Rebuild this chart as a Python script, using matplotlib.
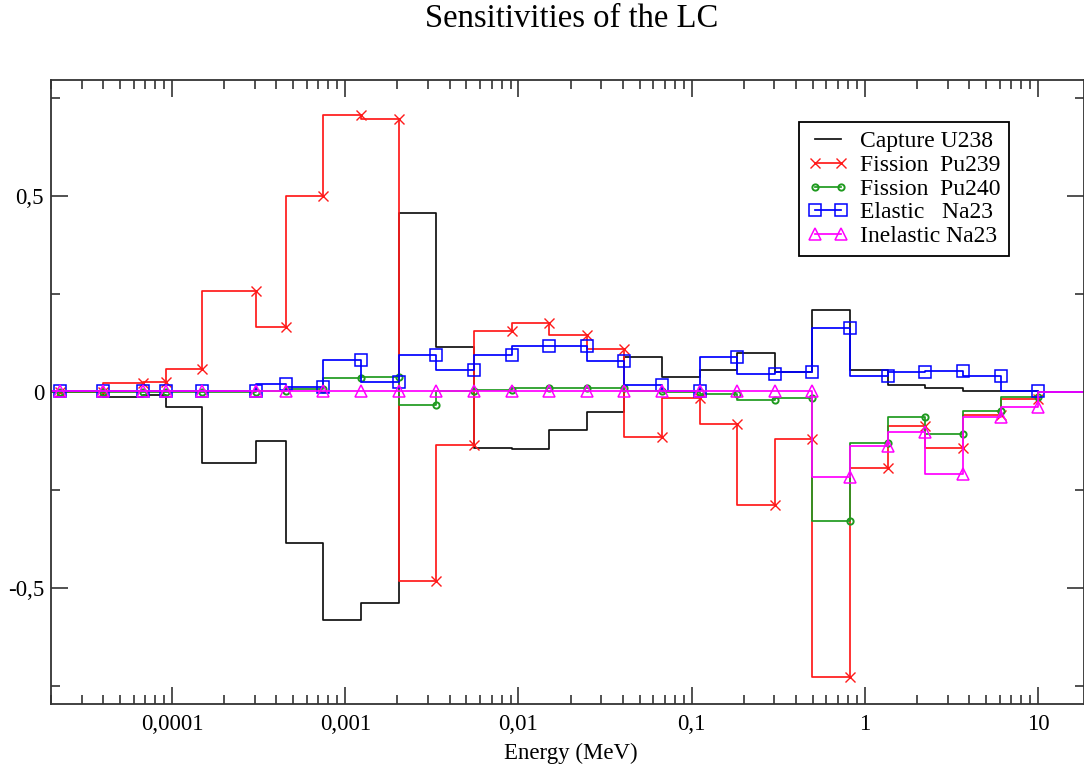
import matplotlib
matplotlib.use("Agg")
import matplotlib.pyplot as plt
from matplotlib.ticker import FixedLocator, FixedFormatter, NullFormatter

# ECCO 33-group boundaries (MeV) used as the step points
energy = [1.371e-5, 2.260e-5, 4.017e-5, 6.790e-5, 9.166e-5, 1.486e-4, 3.043e-4,
          4.540e-4, 7.485e-4, 1.234e-3, 2.035e-3, 3.355e-3, 5.531e-3, 9.119e-3,
          1.503e-2, 2.479e-2, 4.087e-2, 6.738e-2, 0.1111, 0.1832, 0.3020,
          0.4979, 0.8209, 1.353, 2.231, 3.679, 6.065, 10.0, 19.64]

capture_u238 = [0.0, 0.0, 0.0, -0.013, -0.008, -0.038, -0.181, -0.124, -0.385,
                -0.580, -0.537, 0.455, 0.115, -0.143, -0.145, -0.096, -0.050,
                0.089, 0.038, 0.056, 0.099, 0.051, 0.209, 0.056, 0.018, 0.011,
                0.003, 0.002, 0.001]

fission_pu239 = [0.0, 0.0, 0.0, 0.022, 0.026, 0.058, 0.257, 0.165, 0.500,
                 0.705, 0.695, -0.481, -0.135, 0.155, 0.176, 0.145, 0.109,
                 -0.114, -0.015, -0.082, -0.287, -0.120, -0.725, -0.193,
                 -0.086, -0.143, -0.058, -0.018, 0.0]

fission_pu240 = [0.0, 0.0, 0.0, 0.0, 0.0, 0.0, 0.0, 0.003, 0.008, 0.036, 0.038,
                 -0.032, 0.002, 0.006, 0.009, 0.009, 0.009, 0.002, 0.0, -0.005,
                 -0.020, -0.015, -0.328, -0.130, -0.064, -0.107, -0.048, -0.013,
                 0.0]

elastic_na23 = [0.003, 0.003, 0.003, 0.003, 0.003, 0.003, 0.003, 0.020, 0.013,
                0.081, 0.025, 0.094, 0.056, 0.094, 0.117, 0.117, 0.079, 0.018,
                0.003, 0.089, 0.046, 0.050, 0.163, 0.041, 0.051, 0.053, 0.041,
                0.003, 0.0]

inelastic_na23 = [0.002, 0.002, 0.002, 0.002, 0.002, 0.002, 0.002, 0.002, 0.002,
                  0.002, 0.002, 0.002, 0.002, 0.002, 0.002, 0.002, 0.002, 0.002,
                  0.002, 0.002, 0.002, 0.002, -0.216, -0.137, -0.102, -0.209,
                  -0.064, -0.039, 0.0]

labels = ["Capture U238", "Fission  Pu239", "Fission  Pu240",
          "Elastic   Na23", "Inelastic Na23"]
xtick_vals = [1e-4, 1e-3, 1e-2, 1e-1, 1, 10]
xtick_labels = ["0,0001", "0,001", "0,01", "0,1", "1", "10"]
ytick_vals = [-0.5, 0.0, 0.5]
ytick_labels = ["-0,5", "0", "0,5"]

plt.rcParams["font.family"] = ["Liberation Serif", "DejaVu Serif"]

W, H = 1084, 768
fig = plt.figure(figsize=(W / 100, H / 100), dpi=100)
ax = fig.add_axes([51 / W, 1 - 704 / H, (W - 51) / W, (704 - 80) / H])

lw = 1.25
mk = slice(1, -1)
ax.plot(energy, capture_u238, drawstyle="steps-pre", color="#111111", lw=lw,
        label=labels[0])
ax.plot(energy, fission_pu239, drawstyle="steps-pre", color="#ff1a1a", lw=lw,
        marker="x", ms=7.5, mew=1.0, markevery=mk, label=labels[1])
ax.plot(energy, fission_pu240, drawstyle="steps-pre", color="#1f9a1f", lw=lw,
        marker="o", ms=4.5, mew=1.4, mfc="none", markevery=mk, label=labels[2])
ax.plot(energy, elastic_na23, drawstyle="steps-pre", color="#0000ff", lw=lw,
        marker="s", ms=8, mew=1.1, mfc="none", markevery=mk, label=labels[3])
ax.plot(energy, inelastic_na23, drawstyle="steps-pre", color="#ff00ff", lw=lw,
        marker="^", ms=9, mew=1.1, mfc="none", markevery=mk, label=labels[4])

ax.set_xscale("log")
ax.set_xlim(2e-5, 18.4)
ax.set_ylim(-0.795, 0.795)

ax.xaxis.set_major_locator(FixedLocator(xtick_vals))
ax.xaxis.set_major_formatter(FixedFormatter(xtick_labels))
minor = [m * 10.0 ** e for e in range(-5, 2) for m in range(2, 10)]
ax.xaxis.set_minor_locator(FixedLocator(minor))
ax.xaxis.set_minor_formatter(NullFormatter())
ax.yaxis.set_major_locator(FixedLocator(ytick_vals))
ax.yaxis.set_major_formatter(FixedFormatter(ytick_labels))
ax.yaxis.set_minor_locator(FixedLocator([-0.75, -0.25, 0.25, 0.75]))

ax.tick_params(which="both", direction="in", top=True, right=True,
               color="#333333", width=1.2)
ax.tick_params(which="major", length=12, labelsize=16.5)
ax.tick_params(axis="x", which="major", pad=7)
ax.tick_params(axis="y", which="major", pad=5)
ax.tick_params(which="minor", length=6.5)
for s in ax.spines.values():
    s.set_linewidth(1.3)
    s.set_color("#333333")

fig.text(572 / W, 1 - 27 / H, "Sensitivities of the LC", ha="center",
         va="baseline", fontsize=23.5)
fig.text(571 / W, 1 - 759 / H, "Energy (MeV)", ha="center", va="baseline",
         fontsize=16.5)

leg = ax.legend(loc="upper left", bbox_to_anchor=(799 / W, 1 - 122 / H),
                bbox_transform=fig.transFigure, borderaxespad=0,
                fancybox=False, framealpha=1, edgecolor="black",
                fontsize=17, numpoints=2, handlelength=1.7, handletextpad=0.5,
                labelspacing=0.09, borderpad=0.38)
leg.get_frame().set_linewidth(1.3)

fig.savefig("out.png", dpi=100)
